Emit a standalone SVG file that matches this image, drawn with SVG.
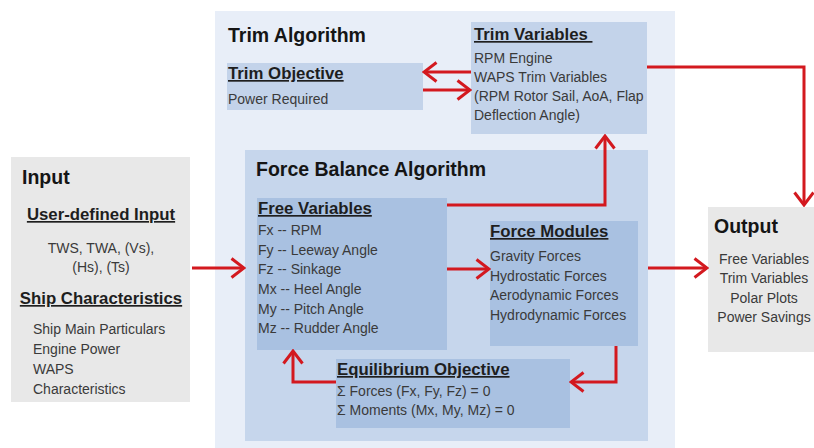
<svg xmlns="http://www.w3.org/2000/svg" width="814" height="448" viewBox="0 0 814 448">
<style>
text{font-family:"Liberation Sans",Arial,sans-serif;}
.h{font-size:19.5px;font-weight:bold;fill:#151515;}
.s{font-size:16.8px;font-weight:bold;fill:#1e1e1e;text-decoration:underline;}
.t{font-size:14px;fill:#3a3a3a;}
.c{text-anchor:middle;}
.grey{fill:#e8e8e8;}
.panel{fill:#e8eef8;}
.fb{fill:#c6d6ec;}
.mid{fill:#c3d3ea;}
.dark{fill:#a9c1e1;}
.ln{fill:none;stroke:#d3191f;stroke-width:3;}
</style>
<defs>
<marker id="ah" viewBox="0 0 16 22" refX="14" refY="11" markerWidth="16" markerHeight="22" markerUnits="userSpaceOnUse" orient="auto">
<path d="M1.5,1.5 L14,11 L1.5,20.5" fill="none" stroke="#d3191f" stroke-width="3"/>
</marker>
</defs>
<rect width="814" height="448" fill="#ffffff"/>
<g id="trim-algorithm">
<rect class="panel" x="215" y="11" width="460" height="437"/>
<text class="h" x="228" y="42">Trim Algorithm</text>
</g>
<g id="force-balance">
<rect class="fb" x="245" y="150" width="403" height="291"/>
<text class="h" x="256" y="176">Force Balance Algorithm</text>
</g>
<g id="trim-objective">
<rect class="mid" x="227" y="63" width="196" height="47"/>
<text class="s" x="228" y="79">Trim Objective</text>
<text class="t" x="228" y="104">Power Required</text>
</g>
<g id="trim-variables">
<rect class="mid" x="471" y="22" width="176" height="112"/>
<text class="s" x="474" y="40" xml:space="preserve">Trim Variables </text>
<text class="t" x="474" y="63">RPM Engine</text>
<text class="t" x="474" y="82">WAPS Trim Variables</text>
<text class="t" x="474" y="101">(RPM Rotor Sail, AoA, Flap</text>
<text class="t" x="474" y="120">Deflection Angle)</text>
</g>
<g id="free-variables">
<rect class="dark" x="257" y="198" width="190" height="152"/>
<text class="s" x="258" y="214">Free Variables</text>
<text class="t" x="258" y="235">Fx -- RPM</text>
<text class="t" x="258" y="254.5">Fy -- Leeway Angle</text>
<text class="t" x="258" y="274">Fz -- Sinkage</text>
<text class="t" x="258" y="294">Mx -- Heel Angle</text>
<text class="t" x="258" y="314">My -- Pitch Angle</text>
<text class="t" x="258" y="333">Mz -- Rudder Angle</text>
</g>
<g id="force-modules">
<rect class="dark" x="490" y="221" width="148" height="125"/>
<text class="s" x="490" y="237">Force Modules</text>
<text class="t" x="490" y="261">Gravity Forces</text>
<text class="t" x="490" y="281">Hydrostatic Forces</text>
<text class="t" x="490" y="300">Aerodynamic Forces</text>
<text class="t" x="490" y="320">Hydrodynamic Forces</text>
</g>
<g id="equilibrium-objective">
<rect class="dark" x="336" y="359" width="234" height="69"/>
<text class="s" x="337" y="375">Equilibrium Objective</text>
<text class="t" x="337" y="396">Σ Forces (Fx, Fy, Fz) = 0</text>
<text class="t" x="337" y="415">Σ Moments (Mx, My, Mz) = 0</text>
</g>
<g id="input">
<rect class="grey" x="11" y="157" width="179" height="245"/>
<text class="h" x="22" y="184">Input</text>
<text class="s c" x="101" y="220">User-defined Input</text>
<text class="t c" x="101" y="253">TWS, TWA, (Vs),</text>
<text class="t c" x="101" y="272">(Hs), (Ts)</text>
<text class="s c" x="101" y="304">Ship Characteristics</text>
<text class="t" x="33" y="334">Ship Main Particulars</text>
<text class="t" x="33" y="354">Engine Power</text>
<text class="t" x="33" y="374">WAPS</text>
<text class="t" x="33" y="394">Characteristics</text>
</g>
<g id="output">
<rect class="grey" x="708" y="207" width="106" height="145"/>
<text class="h" x="714" y="233">Output</text>
<text class="t c" x="764" y="264">Free Variables</text>
<text class="t c" x="764" y="283">Trim Variables</text>
<text class="t c" x="764" y="303">Polar Plots</text>
<text class="t c" x="764" y="322">Power Savings</text>
</g>
<g id="connectors">
<path class="ln" d="M192,268 H244" marker-end="url(#ah)"/>
<path class="ln" d="M447,269 H489" marker-end="url(#ah)"/>
<path class="ln" d="M648,268 H707" marker-end="url(#ah)"/>
<path class="ln" d="M647,67 H804 V205" marker-end="url(#ah)"/>
<path class="ln" d="M447,205 H605 V136" marker-end="url(#ah)"/>
<path class="ln" d="M471,72 H424" marker-end="url(#ah)"/>
<path class="ln" d="M423,90 H470" marker-end="url(#ah)"/>
<path class="ln" d="M616,346 V382 H571" marker-end="url(#ah)"/>
<path class="ln" d="M336,382 H293 V351" marker-end="url(#ah)"/>
</g>
</svg>
